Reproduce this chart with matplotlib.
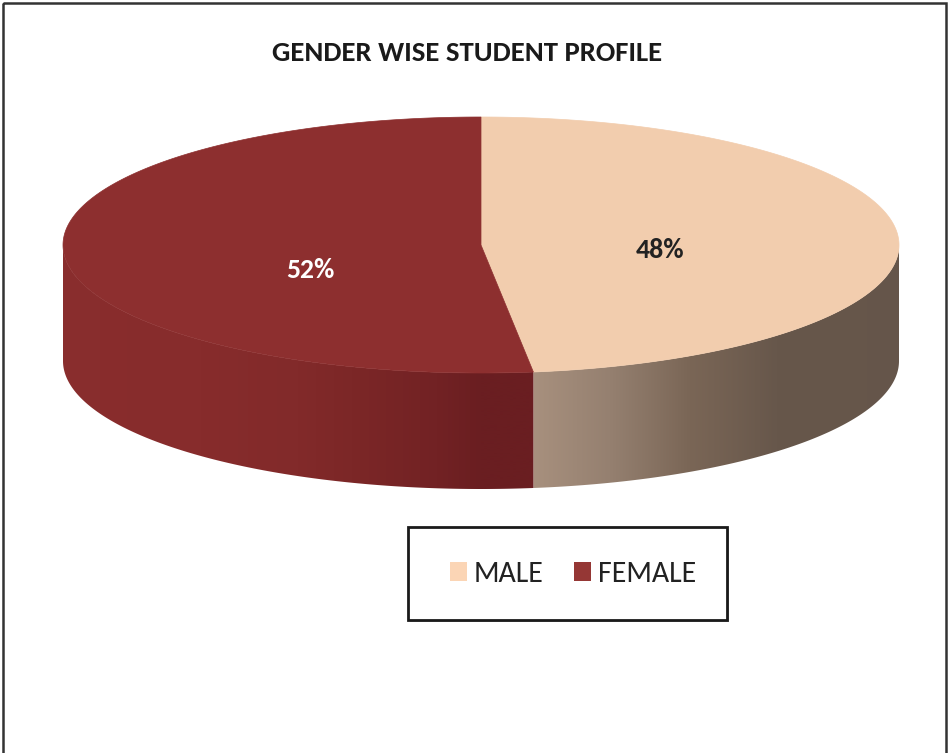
import numpy as np
import matplotlib
matplotlib.use("Agg")
import matplotlib.pyplot as plt
from matplotlib.patches import Polygon, Rectangle, Patch

# ----------------------------- data ------------------------------------------
labels  = ["MALE", "FEMALE"]
shares  = [48, 52]                      # percent
top_col = ["#F2CDAE", "#8D2F2F"]        # top face of each slice
key_col = ["#FBD5B5", "#953735"]        # legend swatches
lbl_col = ["#222222", "#FFFFFF"]

# side wall shading, stops given as (angle clockwise from 12 o'clock, colour)
side_stops = [
    [(90, "#65554A"), (135, "#67574B"), (150, "#7A6656"), (162, "#958070"), (180, "#B49B87")],
    [(180, "#6A1E21"), (186, "#722224"), (198, "#7C2727"), (206, "#822A2A"),
     (222, "#872C2C"), (270, "#8A2E2E")],
]

# ----------------------------- layout (pixels) -------------------------------
W, H    = 949, 753
CX, CY  = 481, 245       # centre of top face
RX, RY  = 418, 128       # ellipse semi axes
DEPTH   = 116            # wall height
LABEL_XY = [(660, 250), (310, 270)]

FONT = ["Carlito", "DejaVu Sans"]


def rim(theta_deg):
    t = np.radians(theta_deg)
    return CX + RX * np.sin(t), CY - RY * np.cos(t)


def shade(stops, theta):
    ang = [s[0] for s in stops]
    rgb = np.array([matplotlib.colors.to_rgb(s[1]) for s in stops])
    return np.stack([np.interp(theta, ang, rgb[:, k]) for k in range(3)], axis=-1)


fig = plt.figure(figsize=(W / 100, H / 100), dpi=100)
ax = fig.add_axes([0, 0, 1, 1])
ax.set_xlim(0, W)
ax.set_ylim(H, 0)
ax.axis("off")

# outer chart frame
ax.add_patch(Rectangle((3, 3), W - 6, H + 10, fill=False, ec="#333333", lw=1.8))

bounds = np.concatenate([[0], np.cumsum(shares)]) * 360 / 100.0

# walls: only the front half (90..270 deg) can be seen; each wall is a
# horizontal gradient image clipped to the wall outline
xs = np.linspace(CX - RX, CX + RX, 2 * RX + 1)
theta_x = 180 - np.degrees(np.arcsin(np.clip((xs - CX) / RX, -1, 1)))
for i in range(len(shares)):
    lo = max(bounds[i], 90)
    hi = min(bounds[i + 1], 270)
    if hi <= lo:
        continue
    th = np.linspace(lo, hi, 300)
    x, y = rim(th)
    outline = np.column_stack([np.r_[x, x[::-1]], np.r_[y, y[::-1] + DEPTH]])
    wall = Polygon(outline, closed=True, fc="none", ec="none")
    ax.add_patch(wall)
    grad = shade(side_stops[i], theta_x)[np.newaxis, :, :]
    img = ax.imshow(grad, extent=(xs[0], xs[-1], CY + RY + DEPTH + 2, CY - 2),
                    aspect="auto", interpolation="bilinear", zorder=1)
    img.set_clip_path(wall)

# top faces
for i in range(len(shares)):
    th = np.linspace(bounds[i], bounds[i + 1], 400)
    x, y = rim(th)
    pts = np.column_stack([np.r_[CX, x], np.r_[CY, y]])
    ax.add_patch(Polygon(pts, closed=True, fc=top_col[i], ec=top_col[i], lw=0.5, zorder=2))

ax.set_xlim(0, W)
ax.set_ylim(H, 0)

# percentage labels
for i, (lx, ly) in enumerate(LABEL_XY):
    ax.text(lx, ly, f"{shares[i]}%", ha="center", va="center", fontsize=20,
            fontweight="bold", color=lbl_col[i], family=FONT, zorder=3)

ax.text(467, 53, "GENDER WISE STUDENT PROFILE", ha="center", va="center",
        fontsize=20.7, fontweight="bold", color="#1A1A1A", family=FONT)

# legend box with a soft drop shadow
ax.add_patch(Rectangle((410, 529), 319, 93, fc="#BBBBBB", ec="none", zorder=4))
ax.add_patch(Rectangle((408, 527), 319, 93, fc="white", ec="#1A1A1A", lw=2, zorder=5))
handles = [Patch(fc=key_col[i], ec="none", label=labels[i]) for i in range(len(labels))]
leg = ax.legend(handles=handles, ncol=2, frameon=False, loc="center",
                bbox_to_anchor=(573 / W, 1 - 574 / H), bbox_transform=fig.transFigure,
                prop={"family": FONT, "size": 21.5}, handlelength=0.57,
                handleheight=0.6, handletextpad=0.25, columnspacing=1.0,
                labelcolor="#222222")
leg.set_zorder(6)

fig.savefig("out.png", dpi=100)
